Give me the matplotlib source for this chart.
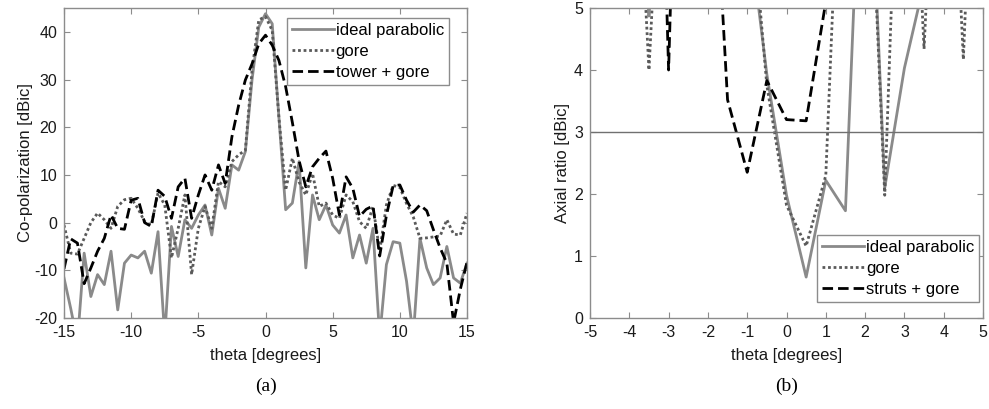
import matplotlib

matplotlib.use('Agg')

import matplotlib.pyplot as plt
import numpy as np

plt.rcParams['font.family'] = ['Liberation Sans', 'DejaVu Sans']
plt.rcParams['axes.unicode_minus'] = False

# (a) co-polarization, theta in 0.5 degree steps
theta_a = np.arange(-15, 15.5, 0.5)
ideal_a = [-11.6, -18, -25, -6.4, -15.5, -10.9, -13, -6, -18.3, -8.5, -6.8, -7.4, -6, -10.6, -1.9, -24,
           -0.8, -7.1, 0.6, -1.2, 1.6, 3.7, -2.6, 7.2, 3.0, 12.1, 11.0, 14.9, 30, 41, 43.8,
           41.7, 22, 2.7, 4.1, 12.8, -9.5, 5.8, 0.6, 3.7, -0.5, -2.2, 1.6, -7.4, -2.6, -8.5,
           -1.2, -24, -8.8, -4, -4.3, -12.3, -24, -3.3, -9.5, -13, -11.6, -5, -11.6, -12.7, -8.5]
gore_a = [-0.5, -6.4, -6.6, -3.3, 0, 2.0, 0.6, -1.2, 3.4, 4.8, 5.1, 3.0, 0.2, -0.5, 6.2, 3.7,
          -7.4, -1.2, 5.8, -10.9, -1.2, 3.4, -1.2, 8.6, 7.5, 12.8, 14.2, 15.2, 32, 42.5, 43.2,
          40.3, 22, 6.8, 13.5, 8.5, 5.8, 10.3, 3.4, 4.1, 1.6, 0.9, 5.8, 4.4, 0.2, -1.2,
          3.4, -6.0, 3.7, 7.8, 7.4, 4.0, 1.2, -3.3, -3.2, -3.0, -2.8, 0.6, -2.4, -2.6, 2.0]
tower_a = [-9.7, -3.4, -4.3, -12.8, -9.5, -6.0, -3.3, 1.6, -1.2, -1.4, 4.7, 5.1, 0.0, -0.8, 6.8, 5.5,
           0.9, 7.5, 9.3, 0.9, 5.8, 10.0, 6.8, 12.1, 8.2, 18, 24.6, 29.9, 33.3, 37.5, 39.3,
           37.2, 34, 28.5, 21, 13, 7.5, 11.7, 13.5, 15, 9.3, 1.6, 9.6, 7.2, 1.3, 2.8,
           3.5, -7.0, 1.5, 7.7, 7.9, 4.7, 2.2, 3.7, 2.5, -1.5, -5.3, -8.5, -21, -14, -8.3]

# (b) axial ratio
theta_b = np.arange(-5, 5.5, 0.5)
ideal_b = [20, 20, 9, 4.87, 9, 20, 20, 20, 6.5, 3.93, 1.98, 0.66, 2.22, 1.73, 9.5, 2.1, 4.03, 5.4, 20, 20, 20]
gore_b = [20, 20, 10.25, 4.0, 10.25, 20, 20, 20, 7.4, 3.75, 1.82, 1.16, 2.3, 10, 9.2, 1.98, 11, 4.34, 11, 4.17, 12]
struts_b = [20, 20, 20, 15, 4.0, 15, 9.2, 3.52, 2.35, 3.83, 3.2, 3.18, 5.1, 20, 20, 20, 20, 20, 20, 20, 20]
ar_limit = 3

gray = '#8a8a8a'
dotc = '#5a5a5a'
txt = '#1a1a1a'
spine = '#8c8c8c'

fig = plt.figure(figsize=(9.89, 4.09), dpi=100)
ax1 = fig.add_axes([64 / 989, 1 - 318 / 409, 403 / 989, 310 / 409])
ax2 = fig.add_axes([590 / 989, 1 - 318 / 409, 393 / 989, 310 / 409])

ax1.plot(theta_a, ideal_a, color=gray, lw=2, label='ideal parabolic')
ax1.plot(theta_a, gore_a, color=dotc, lw=2, linestyle=(0, (1, 1)), label='gore')
ax1.plot(theta_a, tower_a, color='black', lw=2, linestyle=(0, (3.8, 1.8)), label='tower + gore')
ax1.set_xlim(-15, 15)
ax1.set_ylim(-20, 45)
ax1.set_xticks(np.arange(-15, 16, 5))
ax1.set_yticks(np.arange(-20, 41, 10))
ax1.set_xlabel('theta [degrees]', fontsize=12, color=txt, labelpad=6)
ax1.set_ylabel('Co-polarization [dBic]', fontsize=12, color=txt, labelpad=1)
ax1.legend(loc='upper right', fontsize=12, handlelength=2.5, handletextpad=0.1,
           borderpad=0.3, labelspacing=0.35, fancybox=False, edgecolor=spine,
           framealpha=1, borderaxespad=0, bbox_to_anchor=(0.955, 0.968))

ax2.plot(theta_b, ideal_b, color=gray, lw=2, label='ideal parabolic')
ax2.plot(theta_b, gore_b, color=dotc, lw=2, linestyle=(0, (1, 1)), label='gore')
ax2.plot(theta_b, struts_b, color='black', lw=2, linestyle=(0, (3.8, 1.8)), label='struts + gore')
ax2.axhline(ar_limit, color='#707070', lw=1)
ax2.set_xlim(-5, 5)
ax2.set_ylim(0, 5)
ax2.set_xticks(np.arange(-5, 6, 1))
ax2.set_yticks(np.arange(0, 6, 1))
ax2.set_xlabel('theta [degrees]', fontsize=12, color=txt, labelpad=6)
ax2.set_ylabel('Axial ratio [dBic]', fontsize=12, color=txt, labelpad=3)
ax2.legend(loc='lower right', fontsize=12, handlelength=2.5, handletextpad=0.1,
           borderpad=0.3, labelspacing=0.35, fancybox=False, edgecolor=spine,
           framealpha=1, borderaxespad=0, bbox_to_anchor=(0.99, 0.052))

for ax in (ax1, ax2):
    ax.tick_params(direction='in', length=4, width=0.8, colors=spine, labelcolor=txt,
                   labelsize=11.5, top=True, right=True, pad=5)
    for s in ax.spines.values():
        s.set_color(spine)
        s.set_linewidth(1)

fig.text(266 / 989, 1 - 386 / 409, '(a)', fontsize=14, family='Liberation Serif', ha='center', va='center')
fig.text(787 / 989, 1 - 386 / 409, '(b)', fontsize=14, family='Liberation Serif', ha='center', va='center')

fig.savefig('out.png', dpi=100)
